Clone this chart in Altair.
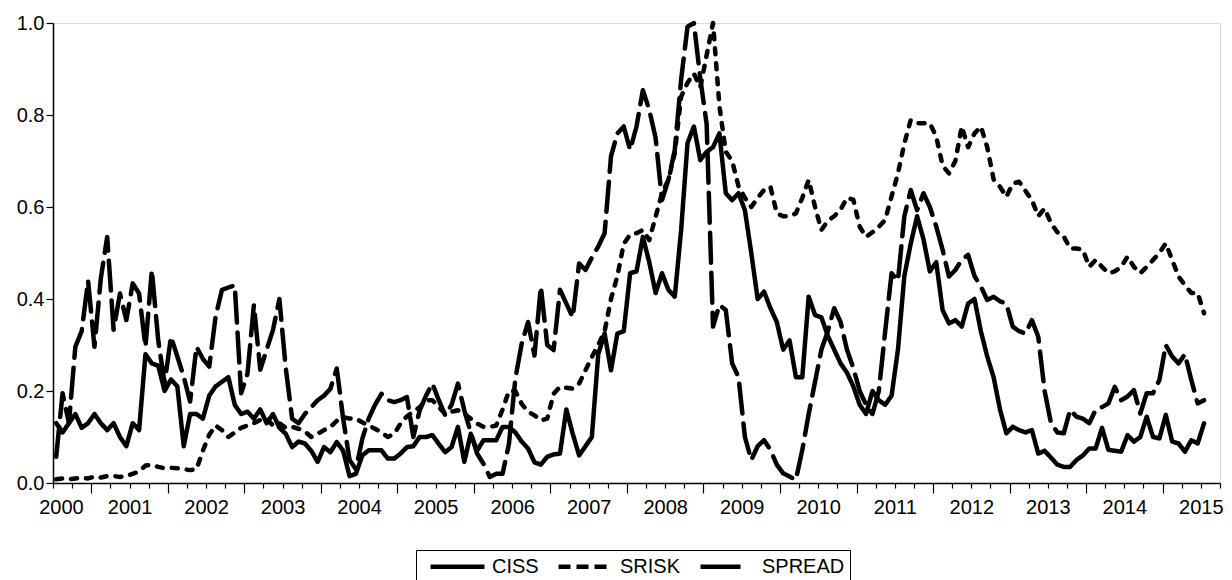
import altair as alt
import pandas as pd

# Monthly observations, 2000M07 .. 2015M07 (one row per calendar year)
ciss = [
    0.13, 0.11, 0.13, 0.15, 0.12, 0.13,
    0.15, 0.13, 0.115, 0.13, 0.10, 0.08, 0.13, 0.115, 0.28, 0.26, 0.255, 0.20,
    0.225, 0.21, 0.08, 0.15, 0.15, 0.14, 0.19, 0.21, 0.22, 0.23, 0.17, 0.15,
    0.155, 0.14, 0.16, 0.13, 0.15, 0.12, 0.107, 0.078, 0.09, 0.086, 0.07, 0.046,
    0.078, 0.067, 0.089, 0.07, 0.015, 0.02, 0.06, 0.071, 0.071, 0.071, 0.053, 0.053,
    0.064, 0.078, 0.08, 0.10, 0.10, 0.104, 0.085, 0.067, 0.078, 0.122, 0.046, 0.107,
    0.07, 0.093, 0.093, 0.093, 0.122, 0.122, 0.11, 0.09, 0.075, 0.045, 0.04, 0.057,
    0.062, 0.064, 0.16, 0.107, 0.06, 0.08, 0.10, 0.28, 0.325, 0.245, 0.325, 0.33,
    0.456, 0.46, 0.535, 0.48, 0.413, 0.456, 0.42, 0.405, 0.55, 0.739, 0.775, 0.702,
    0.72, 0.73, 0.76, 0.63, 0.615, 0.63, 0.593, 0.50, 0.40, 0.416, 0.38, 0.35,
    0.29, 0.31, 0.23, 0.23, 0.405, 0.365, 0.36, 0.32, 0.29, 0.26, 0.24, 0.21,
    0.17, 0.15, 0.20, 0.18, 0.17, 0.19, 0.29, 0.45, 0.52, 0.58, 0.53, 0.46,
    0.48, 0.376, 0.347, 0.354, 0.34, 0.39, 0.40, 0.33, 0.275, 0.23, 0.16, 0.108,
    0.122, 0.115, 0.11, 0.115, 0.064, 0.07, 0.055, 0.04, 0.035, 0.035, 0.05, 0.06,
    0.075, 0.075, 0.12, 0.072, 0.07, 0.068, 0.104, 0.09, 0.10, 0.144, 0.10, 0.097,
    0.148, 0.09, 0.086, 0.068, 0.093, 0.086, 0.13,
]

srisk = [
    0.008, 0.01, 0.008, 0.01, 0.011, 0.01,
    0.014, 0.012, 0.015, 0.015, 0.013, 0.015, 0.02, 0.025, 0.038, 0.039, 0.035, 0.032,
    0.033, 0.032, 0.03, 0.028, 0.03, 0.07, 0.105, 0.125, 0.115, 0.10, 0.11, 0.12,
    0.125, 0.13, 0.137, 0.14, 0.125, 0.13, 0.12, 0.122, 0.118, 0.112, 0.10, 0.107,
    0.115, 0.122, 0.135, 0.143, 0.14, 0.14, 0.132, 0.125, 0.118, 0.11, 0.10, 0.107,
    0.129, 0.145, 0.155, 0.165, 0.18, 0.18, 0.165, 0.15, 0.155, 0.158, 0.15, 0.14,
    0.129, 0.122, 0.122, 0.125, 0.16, 0.20, 0.20, 0.172, 0.155, 0.147, 0.136, 0.14,
    0.194, 0.209, 0.207, 0.205, 0.216, 0.245, 0.274, 0.30, 0.33, 0.40, 0.45, 0.52,
    0.54, 0.543, 0.55, 0.528, 0.579, 0.63, 0.659, 0.717, 0.84, 0.87, 0.89, 0.86,
    0.93, 1.0, 0.82, 0.72, 0.70, 0.645, 0.62, 0.60, 0.62, 0.637, 0.644, 0.586,
    0.58, 0.58, 0.586, 0.62, 0.659, 0.60, 0.55, 0.57, 0.58, 0.594, 0.62, 0.616,
    0.557, 0.535, 0.545, 0.557, 0.572, 0.623, 0.673, 0.738, 0.789, 0.782, 0.782, 0.782,
    0.753, 0.69, 0.673, 0.70, 0.775, 0.73, 0.76, 0.775, 0.73, 0.66, 0.644, 0.622,
    0.651, 0.655, 0.635, 0.615, 0.58, 0.597, 0.565, 0.545, 0.536, 0.51, 0.51, 0.507,
    0.47, 0.485, 0.47, 0.456, 0.46, 0.47, 0.492, 0.47, 0.456, 0.47, 0.485, 0.50,
    0.521, 0.485, 0.449, 0.43, 0.413, 0.413, 0.369,
]

spread = [
    0.057, 0.195, 0.13, 0.296, 0.33, 0.44,
    0.296, 0.445, 0.535, 0.333, 0.412, 0.354, 0.434, 0.412, 0.296, 0.463, 0.31, 0.217,
    0.318, 0.275, 0.231, 0.177, 0.296, 0.27, 0.253, 0.362, 0.42, 0.425, 0.43, 0.195,
    0.238, 0.387, 0.246, 0.29, 0.333, 0.40, 0.25, 0.14, 0.13, 0.15, 0.165, 0.18,
    0.19, 0.205, 0.249, 0.14, 0.05, 0.03, 0.096, 0.14, 0.17, 0.194, 0.18, 0.176,
    0.18, 0.187, 0.10, 0.158, 0.19, 0.216, 0.18, 0.147, 0.17, 0.216, 0.158, 0.11,
    0.064, 0.042, 0.013, 0.02, 0.02, 0.085, 0.227, 0.303, 0.35, 0.277, 0.427, 0.30,
    0.289, 0.42, 0.39, 0.36, 0.477, 0.463, 0.49, 0.514, 0.543, 0.71, 0.76, 0.775,
    0.724, 0.775, 0.854, 0.811, 0.75, 0.615, 0.659, 0.724, 0.877, 0.992, 1.0, 0.88,
    0.78, 0.34, 0.387, 0.376, 0.26, 0.23, 0.10, 0.05, 0.08, 0.093, 0.072, 0.04,
    0.021, 0.014, 0.007, 0.072, 0.15, 0.22, 0.29, 0.33, 0.38, 0.35, 0.29, 0.25,
    0.20, 0.17, 0.15, 0.20, 0.33, 0.456, 0.44, 0.58, 0.637, 0.593, 0.63, 0.60,
    0.558, 0.507, 0.449, 0.463, 0.485, 0.496, 0.45, 0.427, 0.398, 0.405, 0.395, 0.39,
    0.34, 0.33, 0.325, 0.354, 0.318, 0.20, 0.13, 0.11, 0.108, 0.159, 0.144, 0.14,
    0.13, 0.159, 0.165, 0.173, 0.209, 0.18, 0.188, 0.202, 0.151, 0.195, 0.195, 0.224,
    0.30, 0.275, 0.26, 0.28, 0.224, 0.173, 0.18,
]

series_names = ["CISS", "SRISK", "SPREAD"]
line_dashes = [[1, 0], [6, 9], [30, 10]]      # along the plotted lines (round caps)
legend_dashes = [[1, 0], [12, 6], [40, 20]]   # legend swatches (butt caps)

# Observations sit at the middle of each month on a decimal-year axis
dates = pd.date_range("2000-07-01", periods=len(ciss), freq="MS")
t = dates.year + (dates.month - 0.5) / 12

frames = []
for name, vals in zip(series_names, [ciss, srisk, spread]):
    frames.append(pd.DataFrame({"t": t, "value": vals, "series": name}))
df = pd.concat(frames, ignore_index=True)

x_start, x_end = 2000.5, 2015.75
quarter_ticks = [x_start + 0.25 * k for k in range(int((x_end - x_start) / 0.25) + 1)]

FONT = "Liberation Sans"
FS = 20

x_enc = alt.X(
    "t:Q",
    scale=alt.Scale(domain=[x_start, x_end], nice=False, zero=False),
    axis=alt.Axis(
        title=None,
        values=quarter_ticks,
        grid=False,
        tickSize={"condition": {"test": "datum.value % 1 === 0", "value": 10}, "value": 5},
        tickWidth=1.2,
        labelExpr="(datum.value % 1 === 0.5) ? toString(floor(datum.value)) : ''",
        labelOffset={"condition": {"test": "datum.value === 2000.5", "value": 8}, "value": 0},
        labelFlush=False,
        labelPadding=9,
        labelFontSize=FS,
        labelFont=FONT,
        labelColor="black",
        tickColor="black",
        domainColor="black",
        domainWidth=1.5,
        labelOverlap=False,
    ),
)

y_enc = alt.Y(
    "value:Q",
    scale=alt.Scale(domain=[0, 1], nice=False),
    axis=alt.Axis(
        title=None,
        values=[0, 0.2, 0.4, 0.6, 0.8, 1.0],
        format=".1f",
        grid=False,
        tickSize=7,
        tickWidth=1.2,
        labelPadding=2,
        labelFontSize=FS,
        labelFont=FONT,
        labelColor="black",
        tickColor="black",
        domainColor="black",
        domainWidth=1.5,
    ),
)

base = alt.Chart(df)

lines = base.mark_line(
    strokeWidth=4.5, color="black", strokeCap="round", strokeJoin="round"
).encode(
    x=x_enc,
    y=y_enc,
    strokeDash=alt.StrokeDash(
        "series:N",
        scale=alt.Scale(domain=series_names, range=line_dashes),
        legend=None,
    ),
    order=alt.Order("t:Q"),
)

# Key layer: draws no data, only carries the legend with its own swatch dashes
key = base.transform_filter("false").mark_line(
    strokeWidth=4.5, color="black", strokeCap="butt"
).encode(
    x=x_enc,
    y=y_enc,
    strokeDash=alt.StrokeDash(
        "series:N",
        scale=alt.Scale(domain=series_names, range=legend_dashes),
        legend=alt.Legend(
            title=None,
            orient="none",
            legendX=363,
            legendY=527,
            direction="horizontal",
            symbolType="M-3,0H3",
            symbolSize=324,
            symbolOffset=25,
            symbolStrokeWidth=4.5,
            symbolStrokeColor="black",
            symbolFillColor="transparent",
            symbolOpacity=1,
            labelFontSize=FS,
            labelFont=FONT,
            labelColor="black",
            labelOffset=23,
            columnPadding=10,
            padding=5,
            strokeColor="black",
        ),
    ),
)

chart = (
    alt.layer(lines, key)
    .resolve_scale(strokeDash="independent")
    .properties(
        width=1167,
        height=460,
        autosize="none",
        padding={"left": 53, "top": 23, "right": 12, "bottom": 97},
    )
    .configure_view(stroke="black", strokeWidth=1.5)
    .configure(background="white")
)

chart.save("out.html", embed_options={"renderer": "svg", "actions": False})
